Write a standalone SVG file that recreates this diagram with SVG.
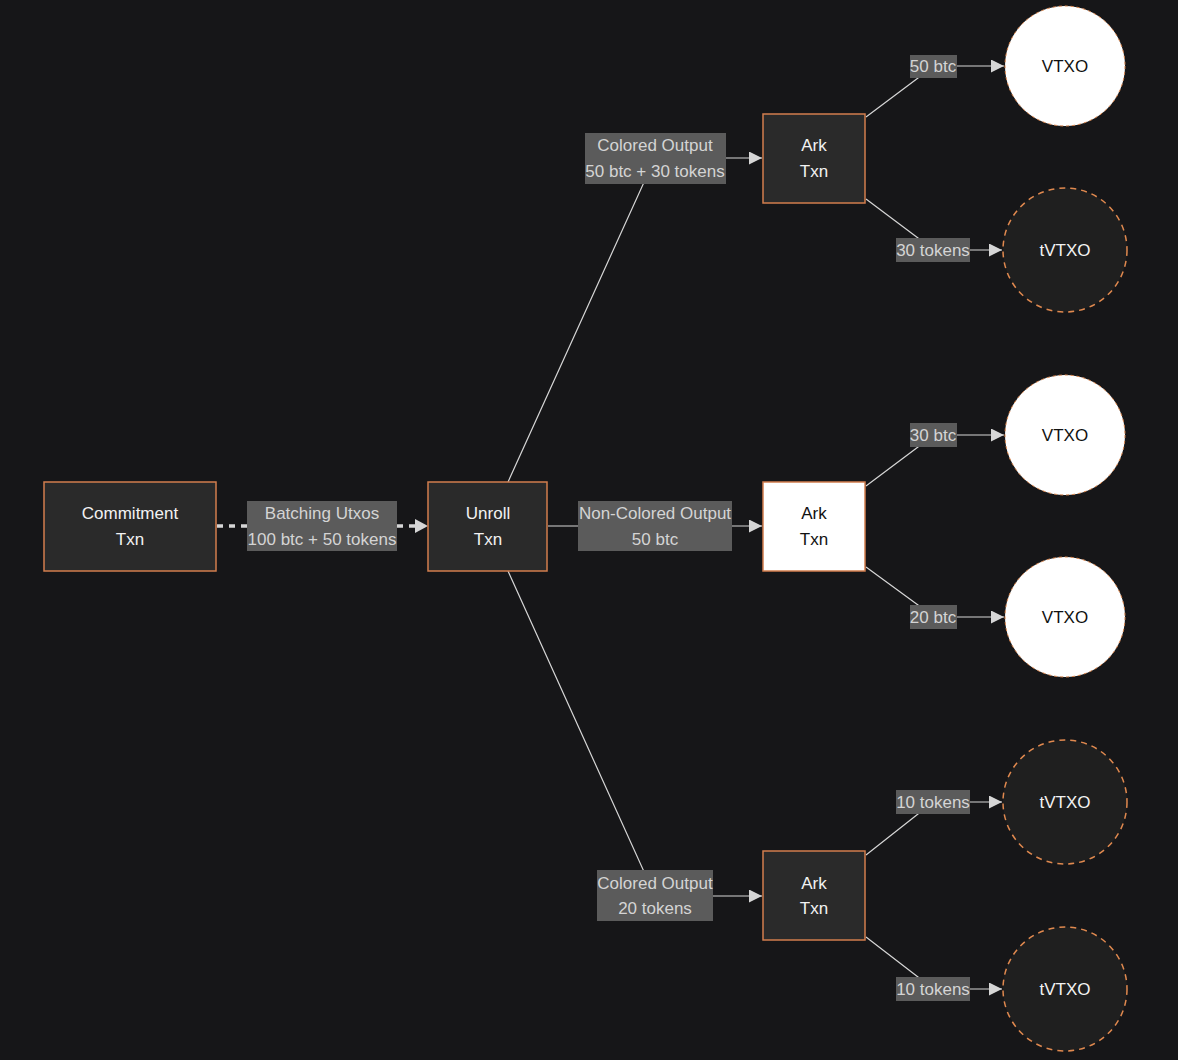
<svg xmlns="http://www.w3.org/2000/svg" width="1178" height="1060" viewBox="0 0 1178 1060">
<defs>
<style>
.node rect{fill:#2a2a2a;stroke:#d27e4d;stroke-width:1.5}
.node.light rect{fill:#ffffff}
.nt{font-family:"Liberation Sans",Arial,sans-serif;font-size:17px;fill:#f2f2f2;text-anchor:middle}
.dk{fill:#111}
.vtxo{fill:#ffffff;stroke:#e0894f;stroke-width:1;stroke-dasharray:3 3}
.tvtxo{fill:#1f1f1f;stroke:#e0894f;stroke-width:1.5;stroke-dasharray:6 5}
.edge{fill:none;stroke:#d6d6d6;stroke-width:1.2}
.dash{fill:none;stroke:#d6d6d6;stroke-width:3.5;stroke-dasharray:6 6}
.lb rect{fill:#5b5b5b}
.lt{font-family:"Liberation Sans",Arial,sans-serif;font-size:17px;fill:#d4d4d4;text-anchor:middle}
</style>
<marker id="ah" viewBox="0 0 10 10" refX="10" refY="5" markerWidth="13" markerHeight="13" markerUnits="userSpaceOnUse" orient="auto">
<path d="M0,0 L10,5 L0,10 z" fill="#d6d6d6"/>
</marker>
</defs>
<rect x="0" y="0" width="1178" height="1060" fill="#161618"/>

<g id="connectors">
<line class="dash" x1="217" y1="526" x2="416" y2="526"/>
<path d="M415,519 L428,526 L415,533 z" fill="#d6d6d6"/>
<polyline class="edge" points="508,482 655,158 762,158" marker-end="url(#ah)"/>
<polyline class="edge" points="548,526 762,526" marker-end="url(#ah)"/>
<polyline class="edge" points="508,571 655,896 762,896" marker-end="url(#ah)"/>
<polyline class="edge" points="866,117 918,78 933,66 1004,66" marker-end="url(#ah)"/>
<polyline class="edge" points="866,199 918,238 933,250 1002,250" marker-end="url(#ah)"/>
<polyline class="edge" points="866,486 918,447 933,435 1004,435" marker-end="url(#ah)"/>
<polyline class="edge" points="866,567 918,605 933,617 1004,617" marker-end="url(#ah)"/>
<polyline class="edge" points="866,855 918,814 933,802 1002,802" marker-end="url(#ah)"/>
<polyline class="edge" points="866,937 918,977 933,989 1002,989" marker-end="url(#ah)"/>
</g>

<g id="edge-labels">
<g class="lb" id="lbl-batching"><rect x="247" y="501" width="150" height="50"/><text class="lt" x="322" y="519">Batching Utxos</text><text class="lt" x="322" y="545">100 btc + 50 tokens</text></g>
<g class="lb" id="lbl-colored-top"><rect x="585" y="133" width="141" height="51"/><text class="lt" x="655" y="151">Colored Output</text><text class="lt" x="655" y="177">50 btc + 30 tokens</text></g>
<g class="lb" id="lbl-noncolored"><rect x="578" y="501" width="154" height="50"/><text class="lt" x="655" y="519">Non-Colored Output</text><text class="lt" x="655" y="545">50 btc</text></g>
<g class="lb" id="lbl-colored-bottom"><rect x="597" y="870" width="116" height="51"/><text class="lt" x="655" y="889">Colored Output</text><text class="lt" x="655" y="914">20 tokens</text></g>
<g class="lb" id="lbl-50btc"><rect x="910" y="55" width="47" height="23"/><text class="lt" x="933" y="72">50 btc</text></g>
<g class="lb" id="lbl-30tokens"><rect x="896" y="238" width="74" height="24"/><text class="lt" x="933" y="256">30 tokens</text></g>
<g class="lb" id="lbl-30btc"><rect x="910" y="423" width="47" height="24"/><text class="lt" x="933" y="441">30 btc</text></g>
<g class="lb" id="lbl-20btc"><rect x="910" y="605" width="47" height="24"/><text class="lt" x="933" y="623">20 btc</text></g>
<g class="lb" id="lbl-10tokens-a"><rect x="896" y="790" width="74" height="24"/><text class="lt" x="933" y="808">10 tokens</text></g>
<g class="lb" id="lbl-10tokens-b"><rect x="896" y="977" width="74" height="24"/><text class="lt" x="933" y="995">10 tokens</text></g>
</g>

<g id="commitment" class="node"><rect x="44" y="482" width="172" height="89"/><text class="nt" x="130" y="519">Commitment</text><text class="nt" x="130" y="545">Txn</text></g>
<g id="unroll" class="node"><rect x="428" y="482" width="119" height="89"/><text class="nt" x="488" y="519">Unroll</text><text class="nt" x="488" y="545">Txn</text></g>
<g id="ark-top" class="node"><rect x="763" y="114" width="102" height="89"/><text class="nt" x="814" y="151">Ark</text><text class="nt" x="814" y="177">Txn</text></g>
<g id="ark-mid" class="node light"><rect x="763" y="482" width="102" height="89"/><text class="nt dk" x="814" y="519">Ark</text><text class="nt dk" x="814" y="545">Txn</text></g>
<g id="ark-bottom" class="node"><rect x="763" y="851" width="102" height="89"/><text class="nt" x="814" y="889">Ark</text><text class="nt" x="814" y="914">Txn</text></g>

<g id="vtxo-1"><circle class="vtxo" cx="1065" cy="66" r="60"/><text class="nt dk" x="1065" y="72">VTXO</text></g>
<g id="tvtxo-1"><circle class="tvtxo" cx="1065" cy="250" r="62"/><text class="nt" x="1065" y="256">tVTXO</text></g>
<g id="vtxo-2"><circle class="vtxo" cx="1065" cy="435" r="60"/><text class="nt dk" x="1065" y="441">VTXO</text></g>
<g id="vtxo-3"><circle class="vtxo" cx="1065" cy="617" r="60"/><text class="nt dk" x="1065" y="623">VTXO</text></g>
<g id="tvtxo-2"><circle class="tvtxo" cx="1065" cy="802" r="62"/><text class="nt" x="1065" y="808">tVTXO</text></g>
<g id="tvtxo-3"><circle class="tvtxo" cx="1065" cy="989" r="62"/><text class="nt" x="1065" y="995">tVTXO</text></g>
</svg>
